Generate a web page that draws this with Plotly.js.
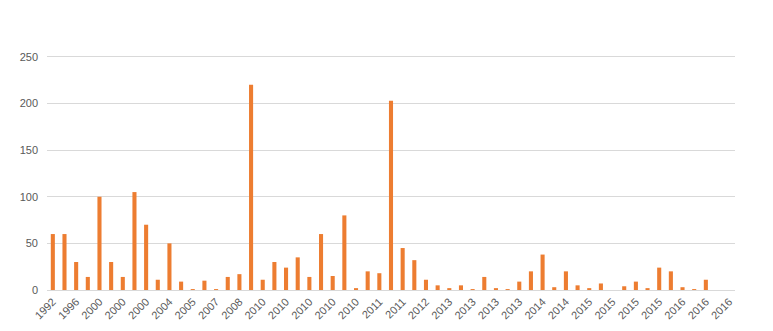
<!DOCTYPE html>
<html>
<head>
<meta charset="utf-8">
<script src="https://cdn.plot.ly/plotly-3.0.1.min.js"></script>
<style>
  html, body { margin: 0; padding: 0; background: #ffffff; }
  #chart { width: 773px; height: 331px; }
</style>
</head>
<body>
<div id="chart"></div>
<script>
// Bar values, one per category (59 categories)
const values = [
  60, 60, 30, 14, 100, 30, 14, 105, 70, 11,
  50, 9, 1, 10, 1, 14, 17, 220, 11, 30,
  24, 35, 14, 60, 15, 80, 2, 20, 18, 203,
  45, 32, 11, 5, 2, 5, 1, 14, 2, 1,
  9, 20, 38, 3, 20, 5, 2, 7, 0, 4,
  9, 2, 24, 20, 3, 1, 11, 0, 0
];
// Category positions (index of each category)
const categories = values.map((v, i) => i);
// Tick labels shown on every other category (starting with the first)
const tickLabels = [
  "1992", "1996", "2000", "2000", "2000", "2004", "2005", "2007", "2008", "2010",
  "2010", "2010", "2010", "2010", "2011", "2011", "2012", "2013", "2013", "2013",
  "2013", "2014", "2014", "2015", "2015", "2015", "2015", "2016", "2016", "2016"
];
const tickPositions = tickLabels.map((t, i) => i * 2);
const yTicks = [0, 50, 100, 150, 200, 250];

const trace = {
  type: 'bar',
  x: categories,
  y: values,
  marker: { color: '#ED7D31' },
  hoverinfo: 'y'
};

const layout = {
  width: 773,
  height: 331,
  margin: { l: 47, r: 38, t: 55, b: 41 },
  paper_bgcolor: '#ffffff',
  plot_bgcolor: '#ffffff',
  showlegend: false,
  bargap: 0.65,
  font: { family: 'Liberation Sans, Arial, sans-serif', size: 11, color: '#595959' },
  xaxis: {
    type: 'linear',
    range: [-0.5, categories.length - 0.5],
    tickmode: 'array',
    tickvals: tickPositions,
    ticktext: tickLabels,
    tickangle: -45,
    ticks: '',
    showgrid: false,
    zeroline: false,
    showline: true,
    linecolor: '#d9d9d9',
    linewidth: 1,
    tickfont: { family: 'Liberation Sans, Arial, sans-serif', size: 11, color: '#595959' },
    fixedrange: true
  },
  yaxis: {
    range: [0, 252],
    tickmode: 'array',
    tickvals: yTicks,
    ticks: '',
    showgrid: true,
    gridcolor: '#d9d9d9',
    gridwidth: 1,
    zeroline: false,
    showline: false,
    ticklabelstandoff: 8,
    tickfont: { family: 'Liberation Sans, Arial, sans-serif', size: 11, color: '#595959' },
    fixedrange: true
  }
};

Plotly.newPlot('chart', [trace], layout, { displayModeBar: false, staticPlot: true });
</script>
</body>
</html>
